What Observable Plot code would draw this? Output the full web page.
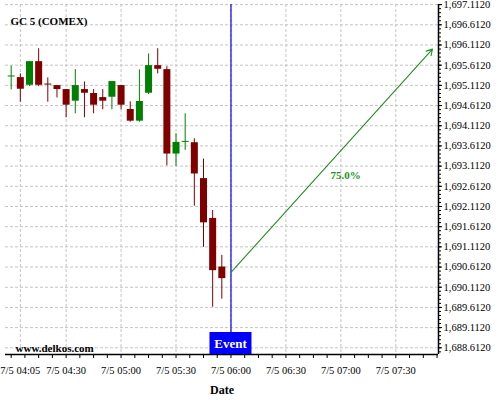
<!DOCTYPE html>
<html>
<head>
<meta charset="utf-8">
<script src="https://cdn.jsdelivr.net/npm/d3@7"></script>
<script src="https://cdn.jsdelivr.net/npm/@observablehq/plot@0.6"></script>
<style>
  html, body { margin: 0; padding: 0; background: white; }
  #chart svg { display: block; }
</style>
</head>
<body>
<div id="chart"></div>
<script>
// ---- data ----
const candleTimes = ["04:00","04:05","04:10","04:15","04:20","04:25","04:30","04:35","04:40","04:45","04:50","04:55",
                     "05:00","05:05","05:10","05:15","05:20","05:25","05:30","05:35","05:40","05:45","05:50","05:55"];
const opens  = [1695.320,1695.305,1695.114,1695.700,1695.145,1695.107,1695.008,1694.720,1695.008,1694.910,1694.810,1694.818,
                1695.107,1694.514,1694.225,1694.917,1695.601,1695.502,1693.411,1693.700,1693.692,1692.803,1691.816,1690.613];
const highs  = [1695.590,1695.396,1695.700,1696.020,1695.297,1695.107,1695.008,1695.502,1695.198,1695.008,1695.008,1695.206,
                1695.107,1694.705,1695.495,1695.890,1696.020,1695.576,1693.915,1694.408,1693.790,1693.287,1692.013,1690.902];
const lows   = [1695.000,1694.695,1695.082,1695.080,1694.695,1694.803,1694.310,1694.408,1694.310,1694.408,1694.507,1694.507,
                1694.507,1694.200,1694.200,1694.885,1695.396,1693.120,1693.107,1693.502,1692.119,1691.100,1689.618,1689.816];
const closes = [1695.345,1695.016,1695.700,1695.114,1695.120,1695.008,1694.621,1695.107,1694.917,1694.621,1694.720,1695.206,
                1694.621,1694.225,1694.712,1695.601,1695.510,1693.411,1693.700,1693.725,1692.917,1691.707,1690.522,1690.325];

const xTickLabels = ["04:05","04:30","05:00","05:30","06:00","06:30","07:00","07:30"];
const yTicks = [1688.612,1689.112,1689.612,1690.112,1690.612,1691.112,1691.612,1692.112,1692.612,
                1693.112,1693.612,1694.112,1694.612,1695.112,1695.612,1696.112,1696.612,1697.112];

const eventTime = "06:00";
const arrowStartTime = "06:00", arrowStartPrice = 1690.48;
const arrowEndTime = "07:50", arrowEndPrice = 1696.01;
const arrowLabel = "75.0%";
const titleText = "GC 5 (COMEX)";
const sourceText = "www.delkos.com";
const eventText = "Event";
const xAxisTitle = "Date";

// ---- helpers ----
const t = s => { const [h, m, sec] = s.split(":").map(Number); return new Date(Date.UTC(2021, 6, 5, h, m, sec || 0)); };
const candles = candleTimes.map((s, i) => ({
  time: t(s), open: opens[i], high: highs[i], low: lows[i], close: closes[i],
  up: closes[i] >= opens[i]
}));
const xDomain = [t("03:56:54"), t("07:53:18")];
const yDomain = [1688.446, 1697.115];
const xMinor = d3.range(0, 32).map(i => new Date(t("04:00").getTime() + i * 7.5 * 60000));
const yMinor = d3.range(0, 87).map(i => 1688.512 + i * 0.1);
const green = "#008000", red = "#800000", arrowGreen = "#229122";
const serif = "Liberation Serif, Times New Roman, serif";

const chart = Plot.plot({
  width: 500, height: 400,
  marginLeft: 5, marginRight: 62, marginTop: 4, marginBottom: 46,
  x: {type: "utc", domain: xDomain},
  y: {domain: yDomain},
  style: {fontFamily: serif, fontSize: "10.5px", background: "white", color: "black", overflow: "visible"},
  marks: [
    Plot.gridY(yTicks, {stroke: "#c4c4c4", strokeOpacity: 1, strokeDasharray: "3,2"}),
    Plot.gridX(xTickLabels.map(t), {stroke: "#c4c4c4", strokeOpacity: 1, strokeDasharray: "3,2"}),
    Plot.ruleY([yDomain[0]], {stroke: "black", strokeWidth: 1.5}),
    Plot.ruleX([xDomain[1]], {stroke: "black", strokeWidth: 1.5}),
    Plot.axisY(yTicks, {anchor: "right", tickSize: 3, tickPadding: 2, tickFormat: d3.format(",.4f"), label: null, fontSize: 10.5}),
    Plot.axisY(yMinor, {anchor: "right", tickSize: 2, tickFormat: () => "", label: null}),
    Plot.axisX(xTickLabels.map(t), {anchor: "bottom", tickSize: 0, tickPadding: 12, tickFormat: d3.utcFormat("%-m/%-d %H:%M"), label: null, fontSize: 10.5}),
    Plot.axisX(xMinor, {anchor: "bottom", tickSize: 4, tickFormat: () => "", label: null}),
    Plot.ruleX(candles, {x: "time", y1: "low", y2: "high", stroke: d => d.up ? green : red, strokeWidth: 1}),
    Plot.ruleX(candles, {x: "time", y1: "open", y2: "close", stroke: d => d.up ? green : red, strokeWidth: 7}),
    Plot.ruleX([t(eventTime)], {stroke: "#0000ff", strokeWidth: 1.2}),
    Plot.arrow([{}], {x1: () => t(arrowStartTime), y1: () => arrowStartPrice, x2: () => t(arrowEndTime), y2: () => arrowEndPrice,
                      stroke: arrowGreen, strokeWidth: 1.1, headLength: 9}),
    Plot.text([arrowLabel], {x: () => new Date((t(arrowStartTime).getTime() + t(arrowEndTime).getTime()) / 2),
                             y: () => (arrowStartPrice + arrowEndPrice) / 2, text: d => d,
                             dx: 14, dy: 15, fill: arrowGreen, fontWeight: "bold", fontSize: 11}),
    Plot.text([titleText], {frameAnchor: "top-left", text: d => d, textAnchor: "start", lineAnchor: "top",
                            dx: 5, dy: 13, fontWeight: "bold", fontSize: 11}),
    Plot.text([sourceText], {frameAnchor: "bottom-left", text: d => d, textAnchor: "start", lineAnchor: "bottom",
                             dx: 10, dy: -3, fontWeight: "bold", fontSize: 11}),
    Plot.text([xAxisTitle], {frameAnchor: "bottom", text: d => d, lineAnchor: "middle", dy: 36, fontWeight: "bold", fontSize: 12})
  ]
});

// Event badge at the bottom of the event line, positioned with Plot's scales
const ex = chart.scale("x").apply(t(eventTime));
const yb = chart.scale("y").apply(yDomain[0]);
const g = d3.select(chart).append("g");
g.append("rect").attr("x", ex - 21).attr("y", yb - 22).attr("width", 42).attr("height", 22).attr("fill", "#0000ff");
g.append("text").attr("x", ex).attr("y", yb - 6).attr("text-anchor", "middle")
  .attr("fill", "white").attr("font-weight", "bold").attr("font-size", 13).attr("font-family", serif).text(eventText);

document.getElementById("chart").appendChild(chart);
</script>
</body>
</html>
